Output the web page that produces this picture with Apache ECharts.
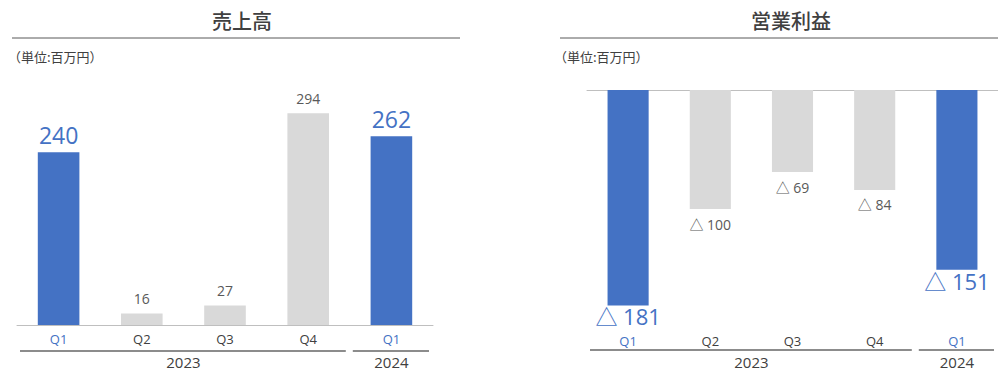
<!DOCTYPE html>
<html><head><meta charset="utf-8">
<script src="https://cdn.jsdelivr.net/npm/echarts@6/dist/echarts.min.js"></script>
<style>html,body{margin:0;padding:0;background:#fff}#c{width:998px;height:372px}</style>
</head><body><div id="c"></div>
<script>
const quarters = ['Q1','Q2','Q3','Q4','Q1'];
const years = ['2023','2024'];
const yearSpans = [4, 1];
const sales = [240, 16, 27, 294, 262];
const opIncome = [-181, -100, -69, -84, -151];
const highlight = [true, false, false, false, true];
const titles = ['売上高', '営業利益'];
const unitLabel = '（単位:百万円）';

const BLUE = '#4472C4', GRAY = '#D9D9D9', TXT = '#404040';
const FONT = '"Open Sans","Noto Sans CJK JP",sans-serif';
const JFONT = '"Noto Sans CJK JP","Noto Sans",sans-serif';

function barData(vals, neg) {
  return vals.map((v, i) => ({
    value: v,
    itemStyle: { color: highlight[i] ? BLUE : GRAY },
    label: highlight[i]
      ? { fontSize: neg ? 22 : 23, lineHeight: neg ? 16 : 22, color: BLUE, distance: neg ? 3 : 6 }
      : { fontSize: 14, lineHeight: 14, color: '#595959', distance: 8 }
  }));
}
const qColor = (v, i) => highlight[i] ? BLUE : TXT;

const chart = echarts.init(document.getElementById('c'), null, { renderer: 'svg' });
chart.setOption({
  animation: false,
  textStyle: { fontFamily: FONT },
  title: [
    { text: titles[0], left: 237, top: 5, textAlign: 'center', textStyle: { fontSize: 20, fontWeight: 500, color: TXT, fontFamily: JFONT } },
    { text: titles[1], left: 786, top: 5, textAlign: 'center', textStyle: { fontSize: 20, fontWeight: 500, color: TXT, fontFamily: JFONT } },
    { text: unitLabel, left: 3, top: 45, textStyle: { fontSize: 13, fontWeight: 'normal', color: TXT, fontFamily: JFONT } },
    { text: unitLabel, left: 549, top: 45, textStyle: { fontSize: 13, fontWeight: 'normal', color: TXT, fontFamily: JFONT } }
  ],
  grid: [
    { left: 17, top: 109, width: 416, height: 216 },
    { left: 587, top: 90, width: 415, height: 238 }
  ],
  xAxis: [
    { gridIndex: 0, type: 'category', data: quarters,
      axisLine: { lineStyle: { color: '#BFBFBF' } },
      axisTick: { interval: 0, length: 5, lineStyle: { color: '#BFBFBF' } },
      axisLabel: { interval: 0, margin: 7, fontSize: 13, color: qColor, fontFamily: FONT } },
    { gridIndex: 1, type: 'category', data: quarters, position: 'top',
      axisLine: { onZero: false, lineStyle: { color: '#BFBFBF' } },
      axisTick: { inside: true, length: 6, interval: (i) => i === 0 || i === 4, lineStyle: { color: '#BFBFBF' } },
      axisLabel: { show: false } },
    { gridIndex: 1, type: 'category', data: quarters, position: 'bottom',
      axisLine: { show: false, onZero: false }, axisTick: { show: false },
      axisLabel: { interval: 0, margin: 6, fontSize: 13, lineHeight: 13, color: qColor, fontFamily: FONT } }
  ],
  yAxis: [
    { gridIndex: 0, type: 'value', min: 0, max: 300, show: false },
    { gridIndex: 1, type: 'value', min: -200, max: 0, show: false }
  ],
  series: [
    { type: 'bar', xAxisIndex: 0, yAxisIndex: 0, barWidth: '50%', data: barData(sales, false),
      label: { show: true, position: 'top', fontFamily: FONT } },
    { type: 'bar', xAxisIndex: 1, yAxisIndex: 1, barWidth: '50%', data: barData(opIncome, true),
      label: { show: true, position: 'bottom', fontFamily: FONT, formatter: p => '△ ' + Math.abs(p.value) } }
  ]
});

const graphics = [
  { type: 'line', shape: { x1: 12, y1: 38, x2: 460, y2: 38 }, style: { stroke: '#595959', lineWidth: 1 } },
  { type: 'line', shape: { x1: 560, y1: 38, x2: 998, y2: 38 }, style: { stroke: '#595959', lineWidth: 1 } }
];
[[0, 351, 362], [2, 350, 362]].forEach(([axisIdx, lineY, textY]) => {
  const c0 = chart.convertToPixel({ xAxisIndex: axisIdx }, 0);
  const c1 = chart.convertToPixel({ xAxisIndex: axisIdx }, 1);
  const band = c1 - c0;
  let start = 0;
  years.forEach((y, k) => {
    const x0 = c0 - band / 2 + start * band;
    const x1 = x0 + yearSpans[k] * band;
    graphics.push({ type: 'line', shape: { x1: x0 + 3, y1: lineY, x2: x1 - 4, y2: lineY }, style: { stroke: '#8C8C8C', lineWidth: 2 } });
    graphics.push({ type: 'text', x: (x0 + x1) / 2, y: textY, style: { text: y, fill: TXT, fontSize: 15, fontFamily: FONT, textAlign: 'center', textVerticalAlign: 'middle' } });
    start += yearSpans[k];
  });
});
chart.setOption({ graphic: graphics });
</script>
</body></html>
